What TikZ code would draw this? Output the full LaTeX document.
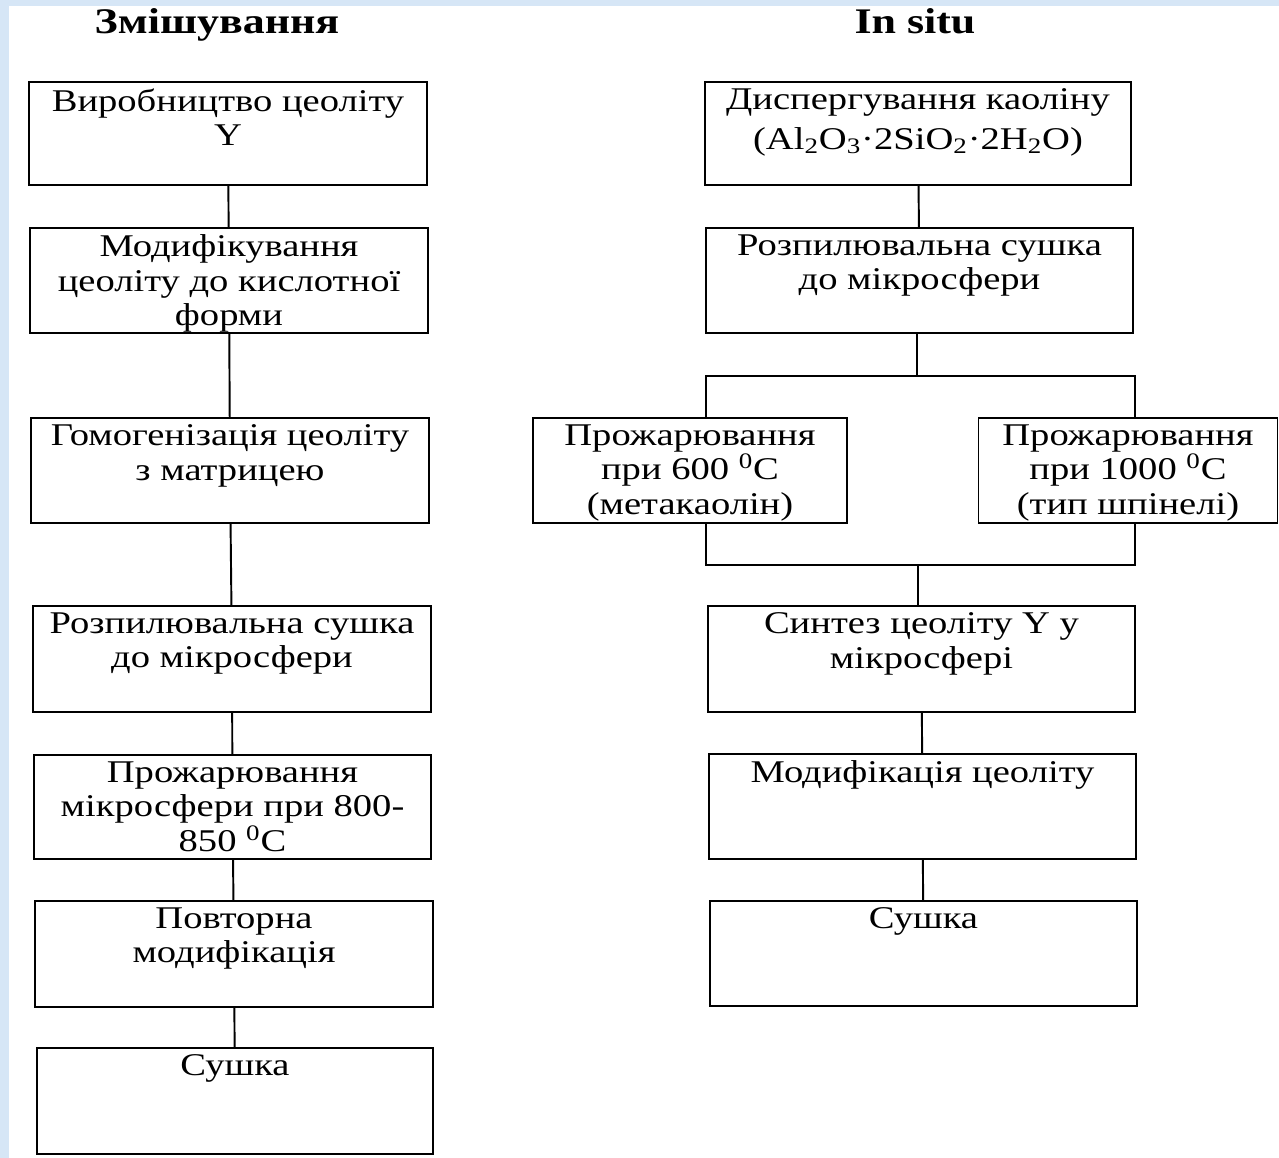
\documentclass[tikz,border=0pt]{standalone}
\usepackage{fontspec}
\setmainfont{Liberation Serif}[FakeStretch=1.22]
\usetikzlibrary{positioning}

\definecolor{bgblue}{RGB}{214,230,246}
\newcommand{\pw}{0.02cm}
\newcommand{\degC}{\textsuperscript{0}C}

\begin{document}
\begin{tikzpicture}[x=\pw, y=\pw, line join=miter,
  box/.style={draw, line width=1.1pt, inner sep=0pt},
  boxtext/.style={inner sep=0pt, align=center, font=\fontsize{18}{19.8}\selectfont},
  title/.style={inner sep=0pt, anchor=base, font=\fontsize{20.5}{22}\selectfont\bfseries},
  link/.style={line width=1.1pt}]

  % Hintergrund
  \fill[bgblue] (0,0) rectangle (1279,-1158);
  \fill[white] (9,-6) rectangle (1279,-1158);
  \useasboundingbox (0,0) rectangle (1279,-1158);

  % Ueberschriften
  \node[title] (tmix) at (217,-34) {Змішування};
  \node[title] (tsitu) at (915,-34) {In situ};

  % linke Spalte
  \node[box, minimum width=398*\pw, minimum height=103*\pw] (l1) at (228,-133.5) {};
  \node[box, minimum width=398*\pw, minimum height=105*\pw] (l2) at (229,-280.5) {};
  \node[box, minimum width=398*\pw, minimum height=105*\pw] (l3) at (230,-470.5) {};
  \node[box, minimum width=398*\pw, minimum height=106*\pw] (l4) at (232,-659) {};
  \node[box, minimum width=397*\pw, minimum height=104*\pw] (l5) at (232.5,-807) {};
  \node[box, minimum width=398*\pw, minimum height=106*\pw] (l6) at (234,-954) {};
  \node[box, minimum width=396*\pw, minimum height=106*\pw] (l7) at (235,-1101) {};

  \node[boxtext, below=4pt of l1.north] (l1t) {Виробництво цеоліту\\Y};
  \node[boxtext, below=4pt of l2.north] (l2t) {Модифікування\\цеоліту до кислотної\\форми};
  \node[boxtext, below=4pt of l3.north] (l3t) {Гомогенізація цеоліту\\з матрицею};
  \node[boxtext, below=4pt of l4.north] (l4t) {Розпилювальна сушка\\до мікросфери};
  \node[boxtext, below=4pt of l5.north] (l5t) {Прожарювання\\мікросфери при 800-\\850 \degC};
  \node[boxtext, below=4pt of l6.north] (l6t) {Повторна\\модифікація};
  \node[boxtext, below=4pt of l7.north] (l7t) {Сушка};

  \foreach \a/\b in {l1/l2, l2/l3, l3/l4, l4/l5, l5/l6, l6/l7}
    \draw[link] (\a) -- (\b);

  % rechte Spalte
  \node[box, minimum width=426*\pw, minimum height=103*\pw] (r1) at (918,-133.5) {};
  \node[box, minimum width=427*\pw, minimum height=105*\pw] (r2) at (919.5,-280.5) {};
  \node[box, minimum width=314*\pw, minimum height=105*\pw] (r3a) at (690,-470.5) {};
  \node[box, minimum width=299*\pw, minimum height=105*\pw] (r3b) at (1128,-470.5) {};
  \node[box, minimum width=427*\pw, minimum height=106*\pw] (r4) at (921.5,-659) {};
  \node[box, minimum width=427*\pw, minimum height=105*\pw] (r5) at (922.5,-806.5) {};
  \node[box, minimum width=427*\pw, minimum height=105*\pw] (r6) at (923.5,-953.5) {};

  \node[boxtext, below=4pt of r1.north] (r1t) {Диспергування каоліну\\[3pt](Al\textsubscript{2}O\textsubscript{3}·2SiO\textsubscript{2}·2H\textsubscript{2}O)};
  \node[boxtext, below=4pt of r2.north] (r2t) {Розпилювальна сушка\\до мікросфери};
  \node[boxtext, below=4pt of r3a.north] (r3at) {Прожарювання\\при 600 \degC\\(метакаолін)};
  \node[boxtext, below=4pt of r3b.north] (r3bt) {Прожарювання\\при 1000 \degC\\(тип шпінелі)};
  \node[boxtext, below=4pt of r4.north] (r4t) {Синтез цеоліту Y у\\мікросфері};
  \node[boxtext, below=4pt of r5.north] (r5t) {Модифікація цеоліту};
  \node[boxtext, below=4pt of r6.north] (r6t) {Сушка};

  % Verzweigung und Zusammenfuehrung
  \coordinate (split) at (917,-376);
  \coordinate (sl) at (706,-376);
  \coordinate (sr) at (1135,-376);
  \coordinate (merge) at (918,-565);
  \coordinate (ml) at (706,-565);
  \coordinate (mr) at (1135,-565);

  \draw[link] (r1) -- (r2);
  \draw[link] (r2.south -| split) -- (split);
  \draw[link] (sl |- r3a.north) -- (sl) -- (sr) -- (sr |- r3b.north);
  \draw[link] (ml |- r3a.south) -- (ml) -- (mr) -- (mr |- r3b.south);
  \draw[link] (merge) -- (merge |- r4.north);
  \draw[link] (r4) -- (r5);
  \draw[link] (r5) -- (r6);

\end{tikzpicture}
\end{document}
